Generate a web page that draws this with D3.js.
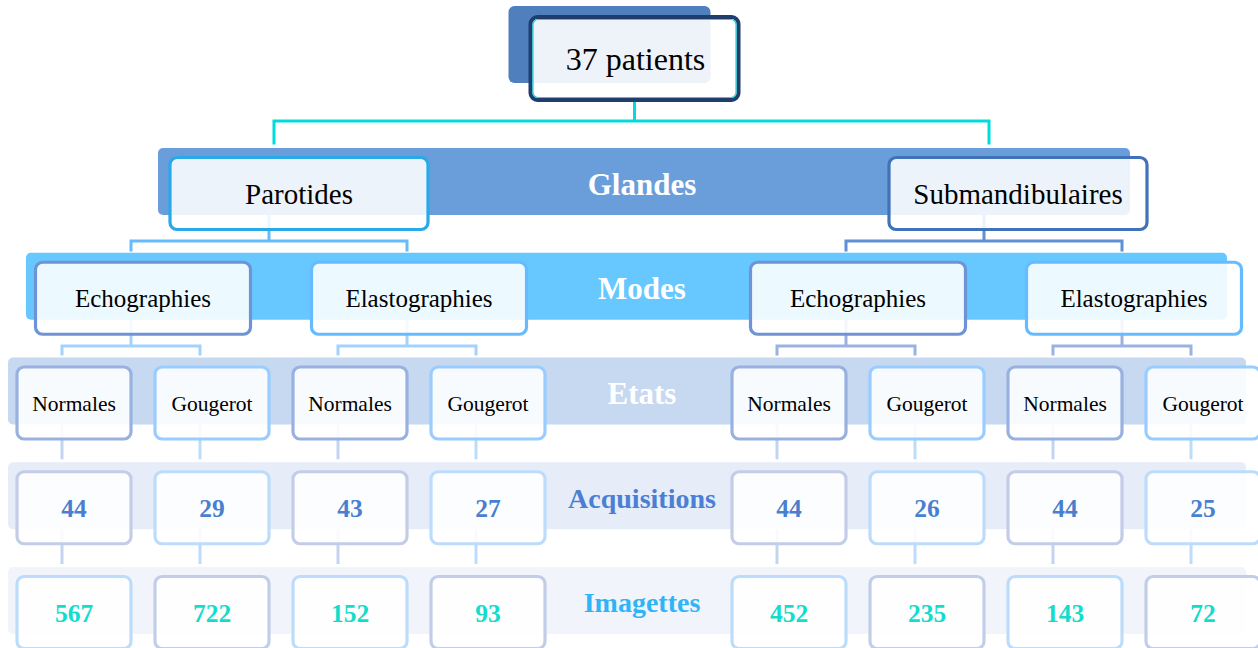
<!DOCTYPE html>
<html>
<head>
<meta charset="utf-8">
<script src="https://cdn.jsdelivr.net/npm/d3@7/dist/d3.min.js"></script>
<style>
  html, body { margin: 0; padding: 0; background: #ffffff; }
  svg { display: block; }
  text { font-family: "Liberation Serif", "Times New Roman", serif; }
</style>
</head>
<body>
<svg id="chart" width="1258" height="648"></svg>
<script>
// ---- data ----
const rootLabel = "37 patients";
const levelNames = ["Glandes", "Modes", "Etats", "Acquisitions", "Imagettes"];
const glandes = ["Parotides", "Submandibulaires"];
const modes = ["Echographies", "Elastographies", "Echographies", "Elastographies"];
const etats = ["Normales", "Gougerot", "Normales", "Gougerot", "Normales", "Gougerot", "Normales", "Gougerot"];
const acquisitions = [44, 29, 43, 27, 44, 26, 44, 25];
const imagettes = [567, 722, 152, 93, 452, 235, 143, 72];

// ---- styles ----
const bandColors = ["#6a9edb", "#66c8ff", "#c6d9f1", "#e6edf8", "#f1f5fb"];
const bandLabelColors = ["#ffffff", "#ffffff", "#ffffff", "#4a7fd3", "#30b4f8"];
const bandLabelSizes = [31, 31, 31, 28, 28];
const bandExtents = [[158, 1130], [26, 1227], [8, 1246], [8, 1246], [8, 1246]];

const svg = d3.select("#chart");

// ---- scales / layout ----
const groupX = d3.scaleLinear().domain([0, 1]).range([17, 732]);
const inGroup = d3.scaleBand().domain(d3.range(4)).range([0, 528]).paddingInner(24 / 138).paddingOuter(0);
const leafW = inGroup.bandwidth();
const leafCenter = i => groupX(Math.floor(i / 4)) + inGroup(i % 4) + leafW / 2;
const modeCenter = j => (leafCenter(2 * j) + leafCenter(2 * j + 1)) / 2;
const glandeCenter = k => (modeCenter(2 * k) + modeCenter(2 * k + 1)) / 2;
const rootCenter = (glandeCenter(0) + glandeCenter(1)) / 2;

const bandY = d3.scaleLinear().domain([0, 4]).range([148, 567]);
const bandH = 67;
const boxH = 72;
const boxOff = 9.5;

const gConn = svg.append("g");
const gBand = svg.append("g");
const gBox = svg.append("g");

function elbow(px, y0, yMid, children, yEnd, color) {
  const p = d3.path();
  p.moveTo(px, y0); p.lineTo(px, yMid);
  p.moveTo(d3.min(children), yMid); p.lineTo(d3.max(children), yMid);
  children.forEach(x => { p.moveTo(x, yMid); p.lineTo(x, yEnd); });
  gConn.append("path").attr("d", p.toString())
    .attr("fill", "none").attr("stroke", color).attr("stroke-width", 3)
    .attr("stroke-linecap", "square");
}

// ---- bands ----
levelNames.forEach((name, i) => {
  const [x0, x1] = bandExtents[i];
  gBand.append("rect")
    .attr("x", x0).attr("y", bandY(i)).attr("width", x1 - x0).attr("height", bandH)
    .attr("rx", 5).attr("fill", bandColors[i]);
  gBand.append("text")
    .attr("x", 642).attr("y", bandY(i) + bandH / 2)
    .attr("dy", "0.42em").attr("text-anchor", "middle")
    .attr("font-weight", "bold").attr("font-size", bandLabelSizes[i])
    .attr("fill", bandLabelColors[i]).text(name);
});

// ---- boxes ----
function box(cx, y, w, h, stroke, label, opts = {}) {
  gBox.append("rect")
    .attr("x", cx - w / 2).attr("y", y).attr("width", w).attr("height", h)
    .attr("rx", 7).attr("fill", "rgba(255,255,255,0.88)")
    .attr("stroke", stroke).attr("stroke-width", 3.2);
  gBox.append("text")
    .attr("x", cx).attr("y", y + h / 2).attr("dy", "0.36em")
    .attr("text-anchor", "middle")
    .attr("font-size", opts.size || 22)
    .attr("font-weight", opts.bold ? "bold" : "normal")
    .attr("fill", opts.color || "#000").text(label);
}

// root
const rootW = 208, rootY = 17, rootH = 83;
svg.insert("rect", ":first-child")
  .attr("x", rootCenter - rootW / 2 - 26).attr("y", 6).attr("width", 202).attr("height", 77)
  .attr("rx", 6).attr("fill", "#4f7fbd");
const rootBoxX = rootCenter - 4 - rootW / 2;
gBox.append("rect")
  .attr("x", rootBoxX).attr("y", rootY).attr("width", rootW).attr("height", rootH)
  .attr("rx", 7).attr("fill", "rgba(255,255,255,0.9)")
  .attr("stroke", "#1f3d6e").attr("stroke-width", 4);
gBox.append("rect")
  .attr("x", rootBoxX + 2.5).attr("y", rootY + 2.5).attr("width", rootW - 5).attr("height", rootH - 5)
  .attr("rx", 5).attr("fill", "none")
  .attr("stroke", "#10dada").attr("stroke-width", 1.2);
gBox.append("text")
  .attr("x", rootBoxX + rootW / 2 + 1).attr("y", 70)
  .attr("text-anchor", "middle").attr("font-size", 32).attr("fill", "#000").text(rootLabel);

// connectors root -> glandes
const glConn = [0, 1].map(k => glandeCenter(k) - 7);
elbow(rootBoxX + rootW / 2, rootY + rootH, 121, glConn, 143, "#00dcdc");

// glandes
const glandeStroke = ["#29a9e6", "#3f72b9"];
const glandeShift = [18, 22];
const glandeConnColor = ["#66bbff", "#5f8fd4"];
glandes.forEach((g, k) => {
  const cx = glandeCenter(k) + glandeShift[k];
  box(cx, bandY(0) + boxOff, 258, boxH, glandeStroke[k], g, { size: 29 });
  const kids = [2 * k, 2 * k + 1].map(j => modeCenter(j) - 12);
  elbow(glandeCenter(k) - 12, bandY(0) + bandH, 241, kids, 250, glandeConnColor[k]);
});

// modes
const modeStroke = ["#6e94d6", "#66bbff"];
const modeConnColor = ["#a3d2ff", "#a3d2ff", "#9ab2e0", "#9ab2e0"];
modes.forEach((m, j) => {
  box(modeCenter(j), bandY(1) + boxOff, 215, boxH, modeStroke[j % 2], m, { size: 25 });
  const kids = [2 * j, 2 * j + 1].map(i => leafCenter(i) - 12);
  elbow(modeCenter(j) - 12, bandY(1) + bandH, 346, kids, 354, modeConnColor[j]);
});

// etats
const etatStroke = ["#98b1e0", "#99ccff"];
const etatConnColor = ["#c3d4f0", "#bcdcfb"];
etats.forEach((e, i) => {
  box(leafCenter(i), bandY(2) + boxOff, leafW, boxH, etatStroke[i % 2], e, { size: 21.5 });
  gConn.append("line")
    .attr("x1", leafCenter(i) - 12).attr("x2", leafCenter(i) - 12)
    .attr("y1", bandY(2) + bandH).attr("y2", bandY(3) - 3)
    .attr("stroke", etatConnColor[i % 2]).attr("stroke-width", 3);
});

// acquisitions
const acqStroke = ["#c3cde8", "#bddcfb"];
const acqConnColor = ["#c3d4f0", "#bcdcfb"];
acquisitions.forEach((v, i) => {
  box(leafCenter(i), bandY(3) + boxOff, leafW, boxH, acqStroke[i % 2], v, { size: 25.5, bold: true, color: "#4a7fd0" });
  gConn.append("line")
    .attr("x1", leafCenter(i) - 12).attr("x2", leafCenter(i) - 12)
    .attr("y1", bandY(3) + bandH).attr("y2", bandY(4) - 3)
    .attr("stroke", acqConnColor[i % 2]).attr("stroke-width", 3);
});

// imagettes
const imgStroke = ["#bcdcfb", "#c2cde8"];
imagettes.forEach((v, i) => {
  box(leafCenter(i), bandY(4) + boxOff, leafW, boxH, imgStroke[i % 2], v, { size: 25.5, bold: true, color: "#14dccc" });
});
</script>
</body>
</html>
